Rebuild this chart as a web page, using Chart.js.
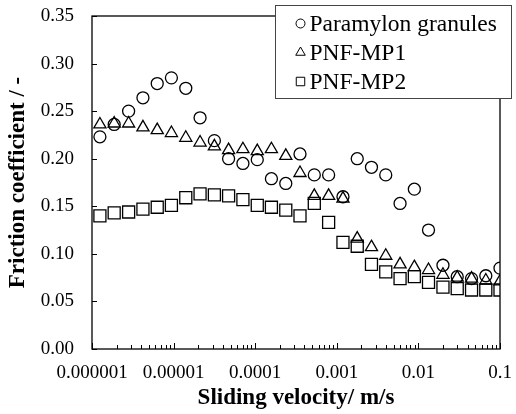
<!DOCTYPE html>
<html>
<head>
<meta charset="utf-8">
<script src="https://cdn.jsdelivr.net/npm/chart.js@4.4.1/dist/chart.umd.min.js"></script>
<style>
  html, body { margin: 0; padding: 0; background: #fff; }
  #wrap { width: 516px; height: 414px; }
</style>
</head>
<body>
<div id="wrap"><canvas id="frictionChart" width="516" height="414"></canvas></div>
<script>
// Sliding velocity (m/s) of each measurement point
const velocities = [
  1.25e-6, 1.87e-6, 2.81e-6, 4.21e-6, 6.3e-6, 9.4e-6, 1.41e-5, 2.11e-5, 3.16e-5, 4.72e-5,
  7.07e-5, 1.06e-4, 1.58e-4, 2.37e-4, 3.54e-4, 5.3e-4, 7.94e-4, 1.19e-3, 1.78e-3, 2.66e-3,
  3.98e-3, 5.96e-3, 8.92e-3, 1.33e-2, 2.0e-2, 2.99e-2, 4.48e-2, 6.7e-2, 0.1
];

const paramylonGranules = [
  0.223, 0.236, 0.250, 0.264, 0.279, 0.285, 0.274, 0.243, 0.219, 0.200,
  0.195, 0.199, 0.179, 0.174, 0.205, 0.183, 0.183, 0.160, 0.200, 0.191,
  0.183, 0.153, 0.168, 0.125, 0.088, 0.076, 0.074, 0.077, 0.085
];

const pnfMp1 = [
  0.236, 0.237, 0.237, 0.233, 0.230, 0.227, 0.222, 0.217, 0.213, 0.209,
  0.210, 0.208, 0.210, 0.203, 0.185, 0.161, 0.161, 0.158, 0.116, 0.107,
  0.098, 0.089, 0.086, 0.083, 0.078, 0.075, 0.074, 0.072, 0.071
];

const pnfMp2 = [
  0.140, 0.143, 0.144, 0.147, 0.149, 0.151, 0.159, 0.163, 0.162, 0.161,
  0.157, 0.151, 0.149, 0.146, 0.140, 0.153, 0.133, 0.112, 0.108, 0.089,
  0.081, 0.074, 0.076, 0.070, 0.065, 0.0635, 0.062, 0.062, 0.062
];

const seriesNames = ["Paramylon granules", "PNF-MP1", "PNF-MP2"];
const seriesStyles = ["circle", "triangle", "rect"];
const xDecades = [1e-6, 1e-5, 1e-4, 1e-3, 1e-2, 1e-1];
const xTickLabels = ["0.000001", "0.00001", "0.0001", "0.001", "0.01", "0.1"];
const xMinorSteps = [2, 3, 4, 5, 6, 7, 8, 9];
const yTicks = [0, 0.05, 0.1, 0.15, 0.2, 0.25, 0.3, 0.35];

const serif = "'Liberation Serif', 'Times New Roman', serif";

function toPoints(values) {
  return velocities.map((v, i) => ({ x: v, y: values[i] }));
}

function markerDataset(label, values, style, radius) {
  return {
    label,
    data: toPoints(values),
    pointStyle: style,
    pointRadius: radius,
    pointHoverRadius: radius,
    pointBorderWidth: 1.3,
    pointBorderColor: "#000",
    pointBackgroundColor: "rgba(0,0,0,0)",
    showLine: false
  };
}

// Box frame plus inward tick marks, like the original spreadsheet chart
const frameTicks = {
  id: "frameTicks",
  beforeDatasetsDraw(chart) {
    const { ctx, chartArea: a, scales } = chart;
    ctx.save();
    ctx.strokeStyle = "#000";
    ctx.lineWidth = 1.3;
    ctx.strokeRect(a.left, a.top, a.right - a.left, a.bottom - a.top);
    ctx.beginPath();
    scales.y.ticks.forEach((t) => {
      const y = Math.round(scales.y.getPixelForValue(t.value)) + 0.5;
      ctx.moveTo(a.left, y);
      ctx.lineTo(a.left + 5, y);
    });
    scales.x.ticks.forEach((t) => {
      const x = Math.round(scales.x.getPixelForValue(t.value)) + 0.5;
      ctx.moveTo(x, a.bottom);
      ctx.lineTo(x, a.bottom - (t.major ? 6 : 4));
    });
    ctx.lineWidth = 1;
    ctx.stroke();
    ctx.restore();
  }
};

const boxLegend = {
  id: "boxLegend",
  afterDraw(chart) {
    const { ctx } = chart;
    const box = { left: 275.5, top: 5.5, width: 236, height: 93 };
    ctx.save();
    ctx.fillStyle = "#fff";
    ctx.fillRect(box.left, box.top, box.width, box.height);
    ctx.strokeStyle = "#444";
    ctx.lineWidth = 1;
    ctx.strokeRect(box.left, box.top, box.width, box.height);
    const markerSizes = [4.5, 5.5, 6];
    seriesNames.forEach((name, i) => {
      const y = box.top + 18 + i * 29;
      ctx.strokeStyle = "#000";
      ctx.fillStyle = "rgba(0,0,0,0)";
      ctx.lineWidth = 1;
      Chart.helpers.drawPoint(ctx, { pointStyle: seriesStyles[i], radius: markerSizes[i], borderWidth: 1, rotation: 0 }, box.left + 25, y);
      ctx.fillStyle = "#000";
      ctx.font = "23.5px " + serif;
      ctx.textBaseline = "middle";
      ctx.fillText(name, box.left + 34, y + 1);
    });
    ctx.restore();
  }
};

new Chart(document.getElementById("frictionChart"), {
  type: "scatter",
  data: {
    datasets: [
      markerDataset(seriesNames[0], paramylonGranules, "circle", 6),
      markerDataset(seriesNames[1], pnfMp1, "triangle", 7),
      markerDataset(seriesNames[2], pnfMp2, "rect", 8.5)
    ]
  },
  options: {
    responsive: false,
    animation: false,
    layout: { padding: { left: 0, top: 16, right: 16, bottom: 0 } },
    plugins: {
      legend: { display: false },
      tooltip: { enabled: false }
    },
    scales: {
      x: {
        type: "logarithmic",
        min: 1e-6,
        max: 0.1,
        grid: { display: false, drawTicks: false },
        border: { display: false },
        afterBuildTicks(scale) {
          const ticks = [];
          xDecades.forEach((d, i) => {
            ticks.push({ value: d, major: true });
            if (i < xDecades.length - 1) {
              xMinorSteps.forEach((m) => ticks.push({ value: d * m, major: false }));
            }
          });
          scale.ticks = ticks;
        },
        afterFit(scale) {
          scale.height = 65;
          scale.paddingLeft = 0;
          scale.paddingRight = 0;
        },
        ticks: {
          autoSkip: false,
          maxRotation: 0,
          minRotation: 0,
          padding: 13,
          color: "#000",
          font: { family: serif, size: 19 },
          callback(value) {
            const idx = xDecades.findIndex((d) => Math.abs(Math.log10(value) - Math.log10(d)) < 1e-6);
            return idx >= 0 ? xTickLabels[idx] : "";
          }
        },
        title: {
          display: true,
          text: "Sliding velocity/ m/s",
          color: "#000",
          font: { family: serif, size: 23, weight: "bold" },
          padding: { top: 0, bottom: 2 }
        }
      },
      y: {
        min: 0,
        max: 0.35,
        grid: { display: false, drawTicks: false },
        border: { display: false },
        afterBuildTicks(scale) {
          scale.ticks = yTicks.map((v) => ({ value: v }));
        },
        afterFit(scale) {
          scale.width = 92;
          scale.paddingTop = 0;
          scale.paddingBottom = 0;
        },
        ticks: {
          padding: 18,
          color: "#000",
          font: { family: serif, size: 19 },
          callback: (value) => value.toFixed(2)
        },
        title: {
          display: true,
          text: "Friction coefficient / -",
          color: "#000",
          font: { family: serif, size: 23, weight: "bold" },
          padding: { top: 4, bottom: 0 }
        }
      }
    }
  },
  plugins: [frameTicks, boxLegend]
});
</script>
</body>
</html>
